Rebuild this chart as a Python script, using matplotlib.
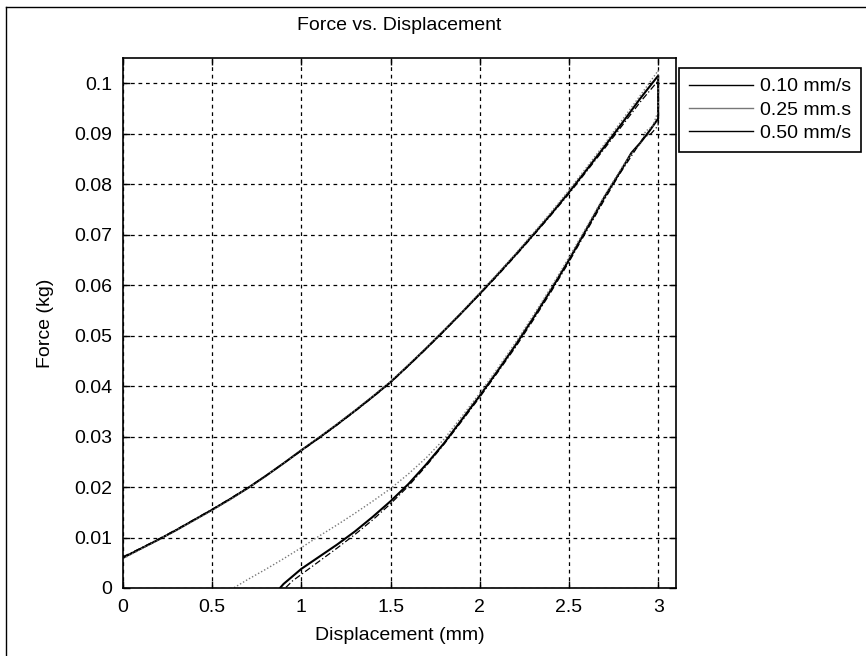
import numpy as np
import matplotlib
matplotlib.use('Agg')
from matplotlib import pyplot as plt
from matplotlib.lines import Line2D

plt.rcParams['font.family'] = ['Liberation Sans', 'DejaVu Sans']

# loading part, same displacement steps for the three runs
disp_load = [0.0, 0.1, 0.2, 0.3, 0.4, 0.5, 0.6, 0.7, 0.8, 0.9, 1.0,
             1.1, 1.2, 1.3, 1.4, 1.5, 1.6, 1.7, 1.8, 1.9, 2.0,
             2.1, 2.2, 2.3, 2.4, 2.5, 2.6, 2.7, 2.8, 2.9, 3.0]
force_load_010 = [0.0060, 0.0078, 0.0096, 0.0115, 0.0135, 0.0155, 0.0176, 0.0198, 0.0222, 0.0247, 0.0273,
                  0.0298, 0.0324, 0.0351, 0.0379, 0.0408, 0.0441, 0.0475, 0.0510, 0.0546, 0.0583,
                  0.0621, 0.0660, 0.0700, 0.0741, 0.0784, 0.0829, 0.0875, 0.0922, 0.0970, 0.1015]
force_load_025 = [0.0058, 0.0077, 0.0096, 0.0115, 0.0134, 0.0154, 0.0175, 0.0198, 0.0222, 0.0247, 0.0273,
                  0.0299, 0.0325, 0.0352, 0.0380, 0.0409, 0.0442, 0.0476, 0.0511, 0.0547, 0.0585,
                  0.0623, 0.0662, 0.0703, 0.0745, 0.0788, 0.0834, 0.0880, 0.0928, 0.0976, 0.1025]
force_load_050 = [0.0062, 0.0079, 0.0097, 0.0116, 0.0136, 0.0156, 0.0177, 0.0199, 0.0222, 0.0247, 0.0272,
                  0.0297, 0.0323, 0.0350, 0.0378, 0.0407, 0.0440, 0.0474, 0.0509, 0.0545, 0.0582,
                  0.0619, 0.0658, 0.0698, 0.0739, 0.0781, 0.0826, 0.0871, 0.0917, 0.0963, 0.1005]

# unloading part
disp_unload_010 = [3.0, 3.0, 2.95, 2.9, 2.85, 2.8, 2.7, 2.6, 2.5, 2.4, 2.3, 2.2, 2.1, 2.0,
                   1.9, 1.8, 1.7, 1.6, 1.5, 1.4, 1.3, 1.2, 1.1, 1.0, 0.9, 0.88]
force_unload_010 = [0.1015, 0.0930, 0.0905, 0.0882, 0.0862, 0.0832, 0.0775, 0.0712, 0.0650, 0.0591,
                    0.0535, 0.0481, 0.0430, 0.0381, 0.0334, 0.0287, 0.0245, 0.0206, 0.0172, 0.0141,
                    0.0112, 0.0086, 0.0062, 0.0038, 0.0008, 0.0000]
disp_unload_025 = [3.0, 3.0, 2.97, 2.93, 2.9, 2.85, 2.8, 2.7, 2.6, 2.5, 2.4, 2.3, 2.2, 2.1, 2.0,
                   1.9, 1.8, 1.7, 1.6, 1.5, 1.4, 1.3, 1.2, 1.1, 1.0, 0.9, 0.8, 0.7, 0.62]
force_unload_025 = [0.1025, 0.0945, 0.0915, 0.0905, 0.0880, 0.0860, 0.0835, 0.0778, 0.0716, 0.0655,
                    0.0596, 0.0540, 0.0486, 0.0435, 0.0386, 0.0340, 0.0295, 0.0258, 0.0226, 0.0197,
                    0.0172, 0.0148, 0.0125, 0.0103, 0.0080, 0.0058, 0.0037, 0.0017, 0.0000]
disp_unload_050 = [3.0, 3.0, 2.96, 2.92, 2.88, 2.83, 2.78, 2.7, 2.6, 2.5, 2.4, 2.3, 2.2, 2.1, 2.0,
                   1.9, 1.8, 1.7, 1.6, 1.5, 1.4, 1.3, 1.2, 1.1, 1.0, 0.95, 0.91]
force_unload_050 = [0.1005, 0.0916, 0.0900, 0.0893, 0.0872, 0.0845, 0.0818, 0.0770, 0.0708, 0.0646,
                    0.0587, 0.0531, 0.0477, 0.0427, 0.0378, 0.0331, 0.0285, 0.0242, 0.0202, 0.0167,
                    0.0135, 0.0106, 0.0079, 0.0053, 0.0027, 0.0014, 0.0000]

labels = ['0.10 mm/s', '0.25 mm.s', '0.50 mm/s']
x_ticks = [0, 0.5, 1, 1.5, 2, 2.5, 3]
x_tick_labels = ['0', '0.5', '1', '1.5', '2', '2.5', '3']
y_ticks = [0, 0.01, 0.02, 0.03, 0.04, 0.05, 0.06, 0.07, 0.08, 0.09, 0.1]
y_tick_labels = ['0', '0.01', '0.02', '0.03', '0.04', '0.05', '0.06', '0.07', '0.08', '0.09', '0.1']

W, H = 866, 656
fig = plt.figure(figsize=(W / 100, H / 100), dpi=100)
ax = fig.add_axes([123 / W, 1 - 588 / H, (676 - 123) / W, (588 - 58) / H])

runs = [
    (force_load_010, disp_unload_010, force_unload_010, 'black', '-', 1.5),
    (force_load_025, disp_unload_025, force_unload_025, '#777777', (0, (1, 1.5)), 1.0),
    (force_load_050, disp_unload_050, force_unload_050, 'black', (0, (5, 2, 1, 2)), 0.9),
]
for f_load, d_un, f_un, col, ls, lw in runs:
    x = np.concatenate([disp_load, d_un])
    y = np.concatenate([f_load, f_un])
    ax.plot(x, y, color=col, linestyle=ls, linewidth=lw)

ax.set_xlim(0, 3.1)
ax.set_ylim(0, 0.105)
ax.set_xticks(x_ticks)
ax.set_xticklabels(x_tick_labels)
ax.set_yticks(y_ticks)
ax.set_yticklabels(y_tick_labels)
ax.grid(True, color='black', linestyle=(0, (3, 3)), linewidth=0.9)
ax.tick_params(direction='in', length=5, width=1, top=True, right=True, labelsize=14, pad=8)
for s in ax.spines.values():
    s.set_linewidth(1.2)

ax.set_title('Force vs. Displacement', fontsize=14, pad=20)
ax.set_xlabel('Displacement (mm)', fontsize=14, labelpad=8)
ax.set_ylabel('Force (kg)', fontsize=14, labelpad=14)

handles = [Line2D([], [], color='black', lw=1),
           Line2D([], [], color='#777777', lw=1),
           Line2D([], [], color='black', lw=1)]
leg = ax.legend(handles, labels, loc='upper left', bbox_to_anchor=(679 / W, 1 - 68 / H),
                bbox_transform=fig.transFigure, borderaxespad=0, fancybox=False,
                edgecolor='black', framealpha=1, fontsize=14, handlelength=3.3,
                handletextpad=0.36, labelspacing=0.3, borderpad=0.5)
leg.get_frame().set_linewidth(1.2)

# outer frame of the figure (left and top edges)
fig.add_artist(Line2D([6 / W, 6 / W], [0, 1 - 7 / H], color='black', lw=1, transform=fig.transFigure))
fig.add_artist(Line2D([6 / W, 1], [1 - 7 / H, 1 - 7 / H], color='black', lw=1, transform=fig.transFigure))

fig.savefig('out.png', dpi=100)
